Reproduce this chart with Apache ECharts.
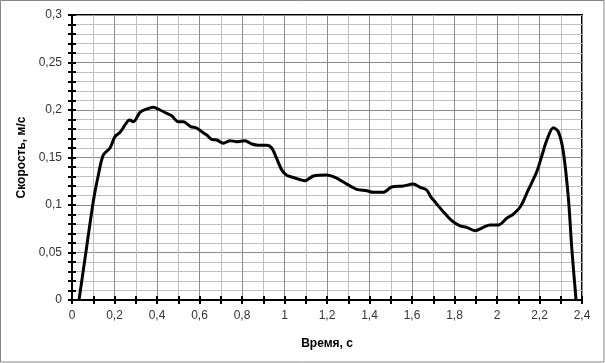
<!DOCTYPE html>
<html><head><meta charset="utf-8">
<script src="https://cdn.jsdelivr.net/npm/echarts@6/dist/echarts.min.js"></script>
<style>html,body{margin:0;padding:0;background:#fff}#c{width:605px;height:363px}</style>
</head><body><div id="c"></div>
<script>
const timeS = [0.033,0.064,0.100,0.124,0.147,0.179,0.202,0.226,0.249,0.270,0.289,0.320,0.351,0.383,0.414,0.446,0.469,0.500,0.524,0.558,0.587,0.618,0.634,0.657,0.681,0.712,0.744,0.775,0.814,0.846,0.877,0.916,0.940,0.963,0.987,1.012,1.042,1.096,1.136,1.198,1.238,1.293,1.340,1.387,1.418,1.465,1.504,1.559,1.606,1.638,1.669,1.690,1.708,1.747,1.787,1.826,1.857,1.896,1.936,1.967,2.006,2.046,2.077,2.112,2.147,2.187,2.210,2.234,2.265,2.289,2.312,2.336,2.352,2.372];
const speed = [0.000,0.048,0.1035,0.1316,0.1526,0.160,0.172,0.1765,0.184,0.1895,0.1877,0.1975,0.201,0.2028,0.200,0.1965,0.194,0.1877,0.1877,0.1825,0.181,0.176,0.1737,0.169,0.1684,0.165,0.1677,0.1667,0.1677,0.1642,0.163,0.163,0.160,0.149,0.137,0.131,0.129,0.1256,0.1305,0.1316,0.129,0.122,0.1165,0.115,0.1133,0.1133,0.119,0.120,0.122,0.1186,0.1158,0.108,0.1035,0.093,0.0835,0.078,0.0765,0.073,0.0765,0.079,0.079,0.086,0.0905,0.099,0.1158,0.135,0.151,0.168,0.1814,0.177,0.156,0.107,0.054,0.000];
const xTicks = {min:0, max:2.4, step:0.2};
const yTicks = {min:0, max:0.3, step:0.05};

const fmt = v => String(+(+v).toFixed(2)).replace('.', ',');
const FONT = 'Liberation Sans';
const chart = echarts.init(document.getElementById('c'), null, {renderer:'canvas'});
const lbl = {color:'#333', fontFamily:FONT, fontSize:12};
const axLine = {show:true, lineStyle:{color:'#000', width:2}};
function xa(inside, main){
  return {type:'value', min:xTicks.min, max:xTicks.max, interval:xTicks.step, position:'bottom',
    axisLine:axLine,
    axisTick:{show:true, inside:inside, length:4, lineStyle:{color:'#000', width:2}},
    minorTick:{show:true, splitNumber:2, length:4, lineStyle:{color:'#000', width:2}},
    axisLabel: main ? Object.assign({formatter:fmt, margin:10}, lbl) : {show:false},
    splitLine:{show:main, lineStyle:{color:'#8c8c8c', width:1}},
    minorSplitLine:{show:main, lineStyle:{color:'#c0c0c0', width:1}},
    name: main ? 'Время, с' : '', nameLocation:'middle', nameGap:38,
    nameTextStyle:{color:'#000', fontFamily:FONT, fontSize:12, fontWeight:'bold'}};
}
function ya(inside, main){
  return {type:'value', min:yTicks.min, max:yTicks.max, interval:yTicks.step, position:'left',
    axisLine:axLine,
    axisTick:{show:true, inside:inside, length:4, lineStyle:{color:'#000', width:2}},
    minorTick:{show:true, splitNumber:5, length:4, lineStyle:{color:'#000', width:2}},
    axisLabel: main ? Object.assign({formatter:fmt, margin:10}, lbl) : {show:false},
    splitLine:{show:main, lineStyle:{color:'#8c8c8c', width:1}},
    minorSplitLine:{show:main, lineStyle:{color:'#c0c0c0', width:1}},
    name: main ? 'Скорость, м/с' : '', nameLocation:'middle', nameGap:40,
    nameTextStyle:{color:'#000', fontFamily:FONT, fontSize:12, fontWeight:'bold'}};
}
chart.setOption({
  animation:false,
  backgroundColor:'#fff',
  grid:{left:72, right:23, top:15, bottom:63, show:true, borderColor:'#000', borderWidth:2, backgroundColor:'transparent'},
  xAxis:[xa(false,true), xa(true,false)],
  yAxis:[ya(false,true), ya(true,false)],
  graphic:[{type:'rect', shape:{x:0.5,y:0.5,width:603.5,height:361.5}, style:{fill:null, stroke:'#868686', lineWidth:1}, silent:true}],
  series:[{type:'line', xAxisIndex:0, yAxisIndex:0, data:timeS.map((t,i)=>[t,speed[i]]),
    smooth:0.3, showSymbol:false, symbol:'none', lineStyle:{color:'#000', width:3}}]
});
</script></body></html>
